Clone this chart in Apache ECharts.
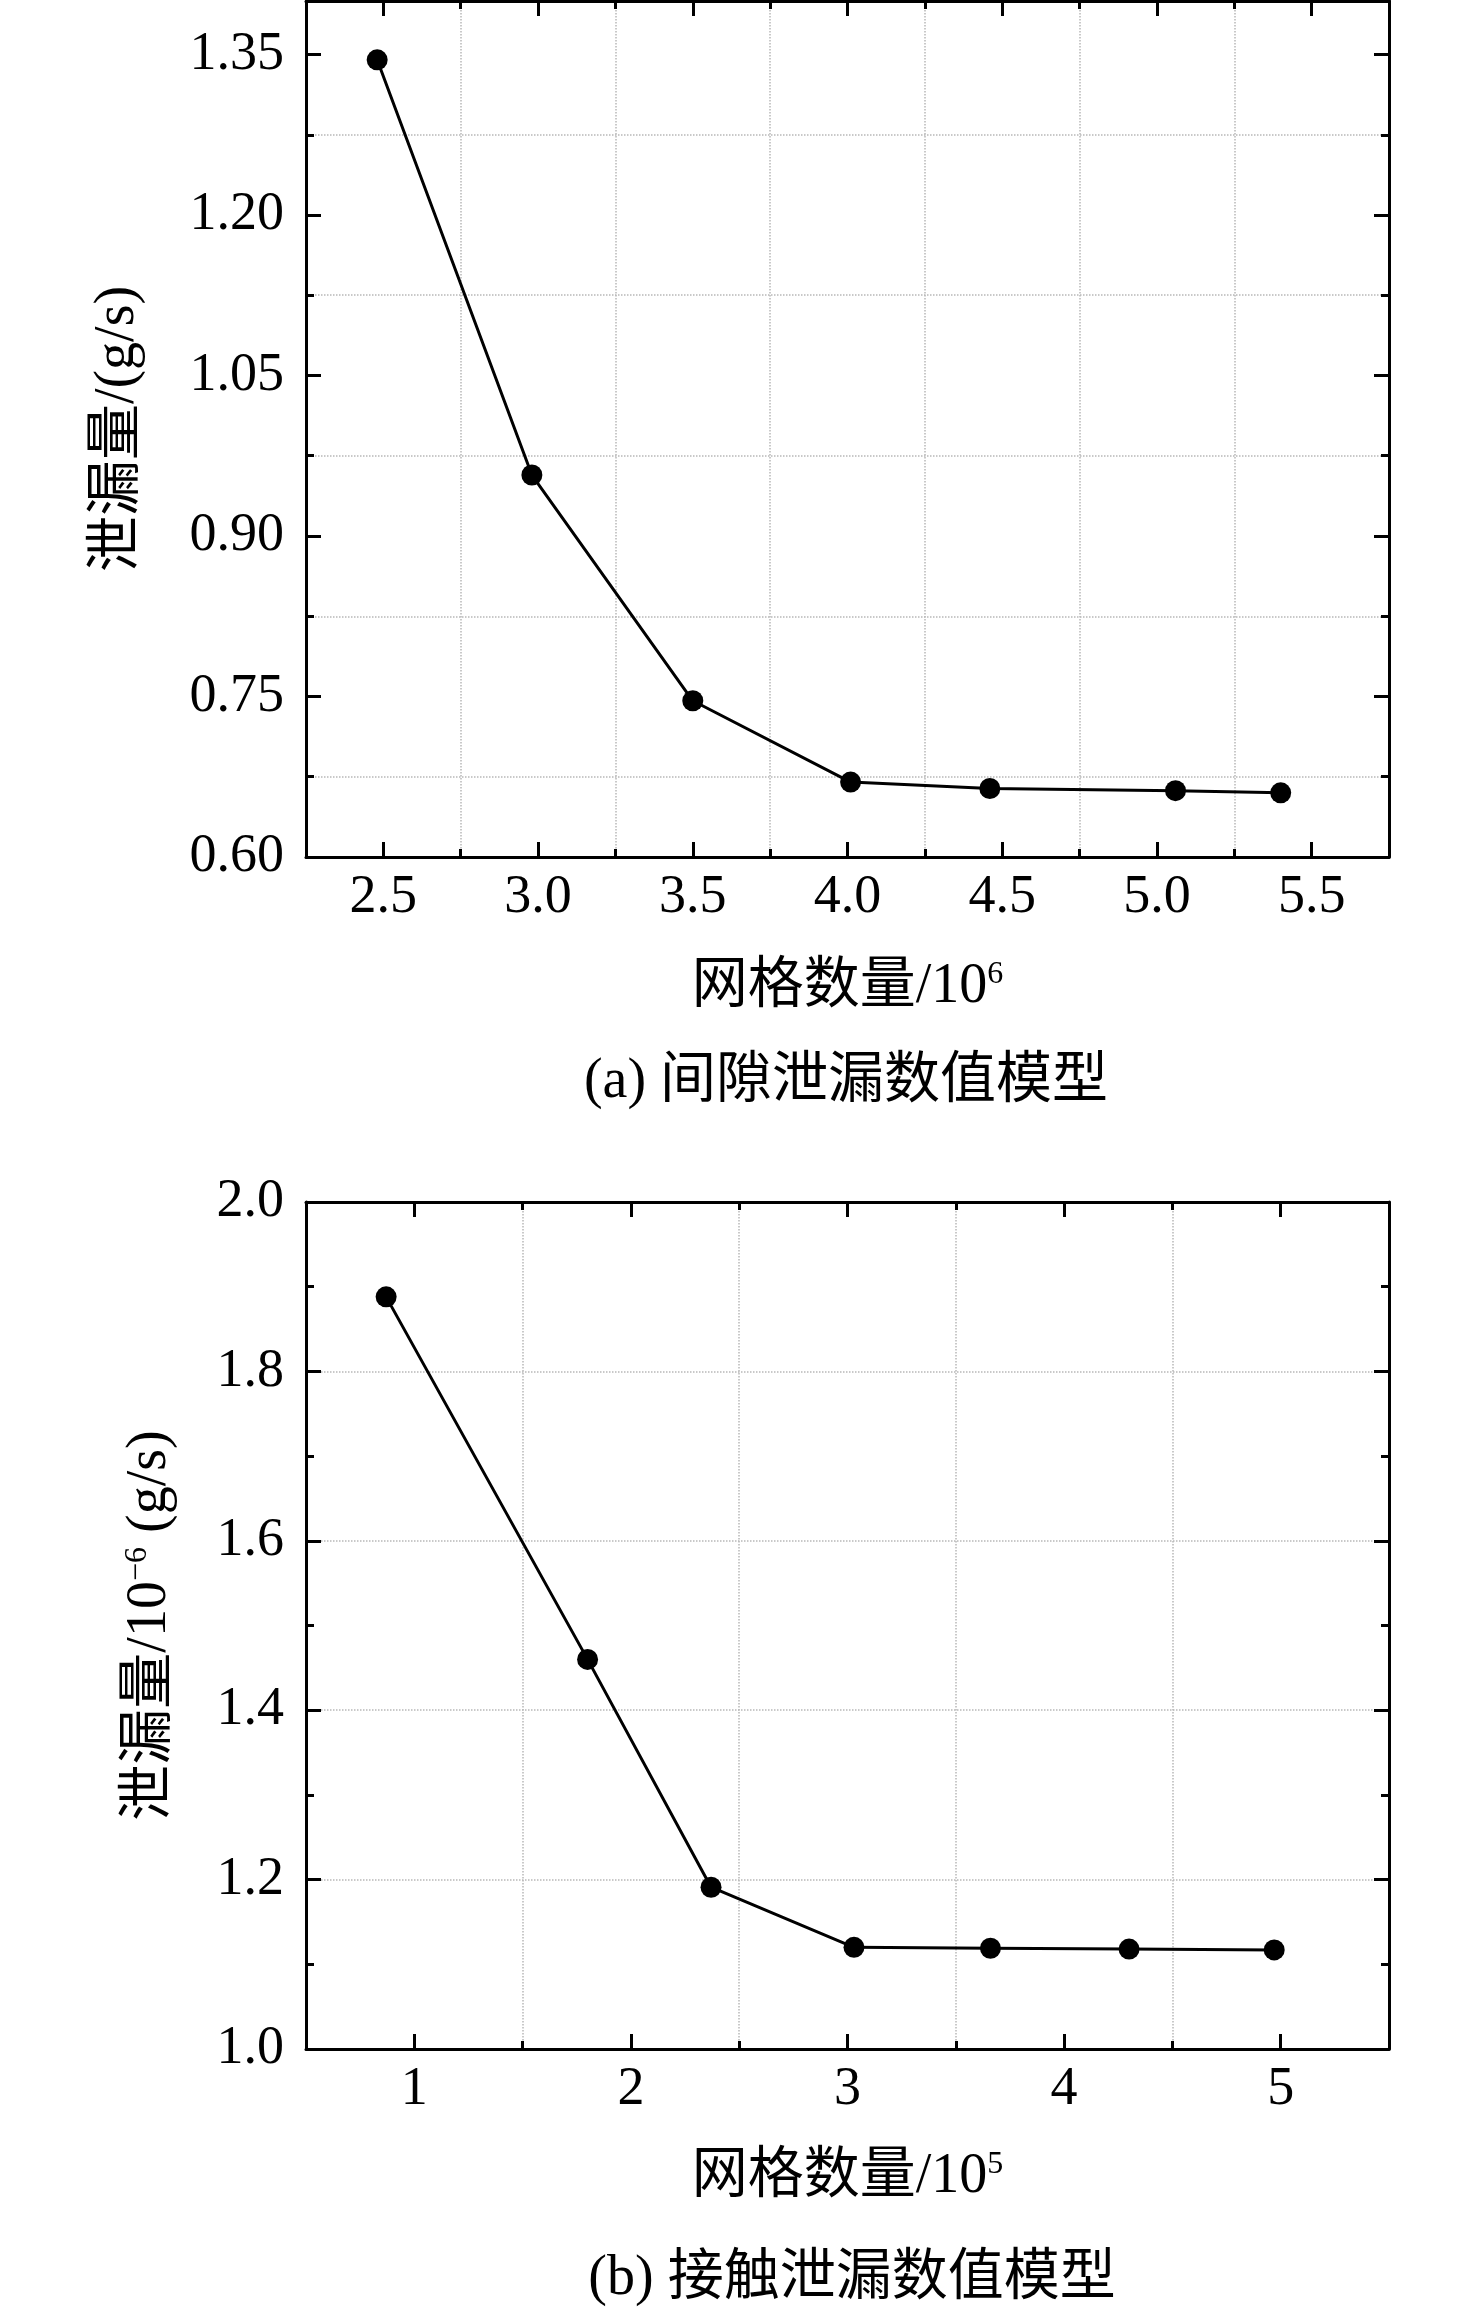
<!DOCTYPE html>
<html>
<head>
  <meta charset="utf-8">
  <title>网格无关性验证</title>
  <script src="https://cdn.jsdelivr.net/npm/echarts/dist/echarts.min.js"></script>
  <style>
    html, body { margin: 0; padding: 0; background: #fff; }
    #chart { width: 1476px; height: 2312px; }
  </style>
</head>
<body>
  <div id="chart"></div>

  <script>
    // (a) 间隙泄漏数值模型
    const meshA = [2.48, 2.98, 3.50, 4.01, 4.46, 5.06, 5.40];
    const leakA = [1.345, 0.957, 0.746, 0.670, 0.664, 0.662, 0.660];
    const xRangeA = [2.25, 5.75];
    const yRangeA = [0.60, 1.40];

    // (b) 接触泄漏数值模型
    const meshB = [0.87, 1.80, 2.37, 3.03, 3.66, 4.30, 4.97];
    const leakB = [1.888, 1.460, 1.191, 1.120, 1.119, 1.118, 1.117];
    const xRangeB = [0.5, 5.5];
    const yRangeB = [1.0, 2.0];

    const captions = ['(a) 间隙泄漏数值模型', '(b) 接触泄漏数值模型'];

    const FONT = "'Liberation Serif', 'Noto Sans CJK SC', serif";
    const black = '#000';
    const gridLine = { show: true, lineStyle: { color: '#b8b8b8', width: 1.5, type: 'dotted' } };

    // only label values sitting on the major step
    function stepFmt(step, digits) {
      return function (v) {
        const k = v / step;
        return Math.abs(k - Math.round(k)) < 1e-6 ? v.toFixed(digits) : '';
      };
    }

    function axis(gridIndex, range, pos, cfg) {
      const a = {
        type: 'value',
        gridIndex: gridIndex,
        position: pos,
        min: range[0],
        max: range[1],
        axisLine: { show: true, onZero: false, lineStyle: { color: black, width: 3 } },
        axisTick: { show: true, inside: true, length: 15, lineStyle: { color: black, width: 3 } },
        minorTick: { show: true, splitNumber: 2, length: 8, lineStyle: { color: black, width: 3 } },
        axisLabel: { show: false },
        splitLine: { show: false },
        minorSplitLine: { show: false }
      };
      return Object.assign(a, cfg || {});
    }

    const tickFont = { color: black, fontFamily: FONT, fontSize: 54 };
    const nameStyle = {
      color: black, fontFamily: FONT, fontSize: 56,
      rich: {
        t: { fontFamily: FONT, fontSize: 56, color: black },
        sup: { fontFamily: FONT, fontSize: 32, color: black, verticalAlign: 'top' }
      }
    };

    const chart = echarts.init(document.getElementById('chart'), null, { renderer: 'canvas' });
    chart.setOption({
      animation: false,
      backgroundColor: '#fff',
      grid: [
        { left: 306, top: 1, width: 1083, height: 856 },
        { left: 306, top: 1202, width: 1083, height: 847 }
      ],
      xAxis: [
        axis(0, xRangeA, 'bottom', {
          splitNumber: 7,
          axisLabel: Object.assign({ show: true, margin: 14, formatter: stepFmt(0.5, 1) }, tickFont),
          minorSplitLine: gridLine,
          name: '{t|网格数量/10}{sup|6}',
          nameLocation: 'middle',
          nameGap: 102,
          nameTextStyle: nameStyle
        }),
        axis(0, xRangeA, 'top', { splitNumber: 7 }),
        axis(1, xRangeB, 'bottom', {
          splitNumber: 5,
          axisLabel: Object.assign({ show: true, margin: 14, formatter: stepFmt(1, 0) }, tickFont),
          minorSplitLine: gridLine,
          name: '{t|网格数量/10}{sup|5}',
          nameLocation: 'middle',
          nameGap: 100,
          nameTextStyle: nameStyle
        }),
        axis(1, xRangeB, 'top', { splitNumber: 5 })
      ],
      yAxis: [
        axis(0, yRangeA, 'left', {
          interval: 0.15,
          axisLabel: Object.assign({ show: true, margin: 22, formatter: stepFmt(0.15, 2) }, tickFont),
          minorSplitLine: gridLine,
          name: '泄漏量/(g/s)',
          nameLocation: 'middle',
          nameRotate: 90,
          nameGap: 160,
          nameTextStyle: nameStyle
        }),
        axis(0, yRangeA, 'right', { interval: 0.15 }),
        axis(1, yRangeB, 'left', {
          interval: 0.2,
          axisLabel: Object.assign({ show: true, margin: 22, formatter: stepFmt(0.2, 1) }, tickFont),
          splitLine: gridLine,
          name: '{t|泄漏量/10}{sup|−6}{t| (g/s)}',
          nameLocation: 'middle',
          nameRotate: 90,
          nameGap: 128,
          nameTextStyle: nameStyle
        }),
        axis(1, yRangeB, 'right', { interval: 0.2 })
      ],
      graphic: [
        { type: 'text', x: 846, y: 1082, style: { text: captions[0], font: '56px ' + FONT, fill: black, textAlign: 'center', textVerticalAlign: 'middle' } },
        { type: 'text', x: 852, y: 2279, style: { text: captions[1], font: '56px ' + FONT, fill: black, textAlign: 'center', textVerticalAlign: 'middle' } }
      ],
      series: [
        {
          type: 'line', xAxisIndex: 0, yAxisIndex: 0,
          data: meshA.map((x, i) => [x, leakA[i]]),
          symbol: 'circle', symbolSize: 21,
          itemStyle: { color: black },
          lineStyle: { color: black, width: 3 }
        },
        {
          type: 'line', xAxisIndex: 2, yAxisIndex: 2,
          data: meshB.map((x, i) => [x, leakB[i]]),
          symbol: 'circle', symbolSize: 21,
          itemStyle: { color: black },
          lineStyle: { color: black, width: 3 }
        }
      ]
    });
  </script>
</body>
</html>
